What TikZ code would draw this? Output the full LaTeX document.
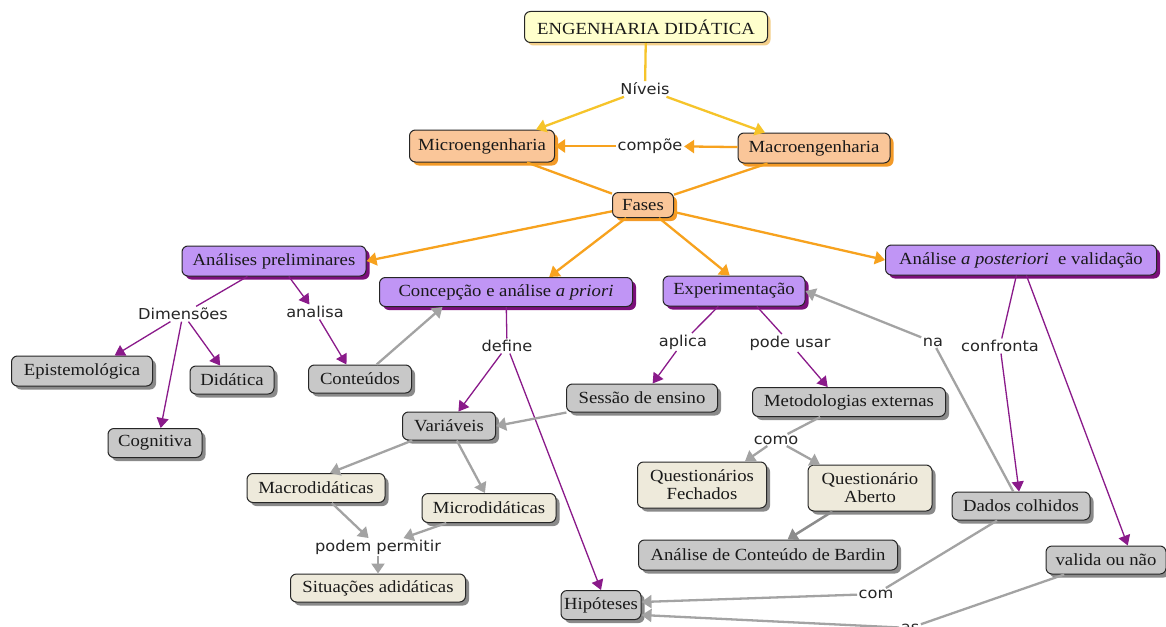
\documentclass[tikz,border=0pt]{standalone}
\usepackage{fontspec}
\setmainfont{Liberation Serif}[FakeStretch=1.1]
\newfontfamily\labfont{DejaVu Sans}[FakeStretch=1.08]
\usetikzlibrary{arrows.meta,shadows,calc}
\definecolor{titlefill}{HTML}{FFFFCC}
\definecolor{titleshadow}{HTML}{F3CF8A}
\definecolor{orfill}{HTML}{FAC699}
\definecolor{orshadow}{HTML}{F39A28}
\definecolor{pufill}{HTML}{C095F5}
\definecolor{pushadow}{HTML}{7B0F7B}
\definecolor{grfill}{HTML}{C8C8C8}
\definecolor{grshadow}{HTML}{8A8A8A}
\definecolor{befill}{HTML}{EEEADB}
\definecolor{yline}{HTML}{F6C42A}
\definecolor{oline}{HTML}{F7A21E}
\definecolor{pline}{HTML}{8A1A8A}
\definecolor{gline}{HTML}{A3A3A3}
\definecolor{gdark}{HTML}{8C8C8C}
\tikzset{
  concept/.style={draw=black!85, line width=1pt, rounded corners=6pt,
    font=\fontsize{17}{18}\selectfont, inner xsep=3pt, inner ysep=2pt,
    align=center, text=black!90},
  ctitle/.style={concept, fill=titlefill, font=\fontsize{17}{18}\selectfont,
    drop shadow={shadow xshift=3pt, shadow yshift=-3pt, fill=titleshadow, opacity=1}},
  corange/.style={concept, fill=orfill,
    drop shadow={shadow xshift=3.5pt, shadow yshift=-3.5pt, fill=orshadow, opacity=1}},
  cpurple/.style={concept, fill=pufill,
    drop shadow={shadow xshift=3.5pt, shadow yshift=-3.5pt, fill=pushadow, opacity=1}},
  cgrey/.style={concept, fill=grfill,
    drop shadow={shadow xshift=3.5pt, shadow yshift=-3.5pt, fill=grshadow, opacity=1}},
  cbeige/.style={concept, fill=befill,
    drop shadow={shadow xshift=3.5pt, shadow yshift=-3.5pt, fill=grshadow, opacity=1}},
  lbl/.style={font=\labfont\fontsize{15}{16}\selectfont, inner sep=1.5pt, text=black!85},
  yl/.style={draw=yline, line width=2.3pt},
  ya/.style={yl, -{Triangle[length=10pt,width=13pt]}},
  ol/.style={draw=oline, line width=2.3pt},
  oa/.style={ol, -{Triangle[length=10pt,width=13pt]}},
  pl/.style={draw=pline, line width=1.3pt},
  pa/.style={pl, -{Triangle[length=10pt,width=12pt]}},
  gl/.style={draw=gline, line width=2.3pt},
  ga/.style={gl, -{Triangle[length=10pt,width=13pt]}},
  gda/.style={draw=gdark, line width=2.5pt, -{Triangle[length=10pt,width=13pt]}},
}
\begin{document}
\begin{tikzpicture}[x=1pt,y=-1pt]
\fill[white] (0,0) rectangle (1166,626);
\useasboundingbox (0,0) rectangle (1166,626);

% concepts
\node[ctitle, minimum width=243pt, minimum height=31pt] (title) at (646,27) {ENGENHARIA DIDÁTICA};
\node[corange, minimum width=145pt, minimum height=32pt] (micro) at (482,146) {Microengenharia};
\node[corange, minimum width=152pt, minimum height=30pt] (macro) at (814,148) {Macroengenharia};
\node[corange, minimum width=61pt, minimum height=25pt] (fases) at (643,205) {Fases};
\node[cpurple, minimum width=184pt, minimum height=30pt] (prelim) at (274,261) {Análises preliminares};
\node[cpurple, minimum width=253pt, minimum height=29pt] (concep) at (506,292) {Concepção e análise \textit{a priori}};
\node[cpurple, minimum width=142pt, minimum height=30pt] (exper) at (734,291) {Experimentação};
\node[cpurple, minimum width=271pt, minimum height=30pt] (poster) at (1021,260) {Análise \textit{a posteriori}\ \ e validação};
\node[cgrey, minimum width=141pt, minimum height=30pt] (epist) at (82,371) {Epistemológica};
\node[cgrey, minimum width=84pt, minimum height=28pt] (didat) at (232,380) {Didática};
\node[cgrey, minimum width=103pt, minimum height=28pt] (conteudos) at (360,379) {Conteúdos};
\node[cgrey, minimum width=94pt, minimum height=29pt] (cogn) at (155,443) {Cognitiva};
\node[cgrey, minimum width=151pt, minimum height=28pt] (sessao) at (642,398) {Sessão de ensino};
\node[cgrey, minimum width=193pt, minimum height=29pt] (metod) at (849,402) {Metodologias externas};
\node[cgrey, minimum width=93pt, minimum height=28pt] (variaveis) at (449,426) {Variáveis};
\node[cbeige, minimum width=129pt, minimum height=46pt] (qf) at (702,485) {Questionários\\Fechados};
\node[cbeige, minimum width=124pt, minimum height=46pt] (qa) at (870,488) {Questionário\\Aberto};
\node[cgrey, minimum width=138pt, minimum height=28pt] (dados) at (1021,506) {Dados colhidos};
\node[cbeige, minimum width=138pt, minimum height=29pt] (macrod) at (316,488) {Macrodidáticas};
\node[cbeige, minimum width=134pt, minimum height=29pt] (microd) at (489,508) {Microdidáticas};
\node[cgrey, minimum width=259pt, minimum height=30pt] (bardin) at (768,555) {Análise de Conteúdo de Bardin};
\node[cgrey, minimum width=120pt, minimum height=28pt] (valida) at (1106,560) {valida ou não};
\node[cbeige, minimum width=175pt, minimum height=28pt] (situ) at (378,588) {Situações adidáticas};
\node[cgrey, minimum width=80pt, minimum height=29pt] (hip) at (601,605) {Hipóteses};

% linking phrases
\node[lbl] (niveis) at (645,89) {Níveis};
\node[lbl] (compoe) at (650,146) {compõe};
\node[lbl] (dim) at (183,314) {Dimensões};
\node[lbl] (analisa) at (315,312) {analisa};
\node[lbl] (define) at (507,346) {define};
\node[lbl] (aplica) at (683,342) {aplica};
\node[lbl] (podeusar) at (790,343) {pode usar};
\node[lbl] (na) at (933,342) {na};
\node[lbl] (confronta) at (1000,346) {confronta};
\node[lbl] (como) at (776,440) {como};
\node[lbl] (podem) at (378,547) {podem permitir};
\node[lbl] (com) at (876,594) {com};
\node[lbl] (as) at (910,628) {as};

% yellow / orange
\draw[yl] (title) -- (niveis);
\draw[ya] (niveis) -- ($(micro.north west)!0.87!(micro.north east)$);
\draw[ya] (niveis) -- ($(macro.north west)!0.18!(macro.north east)$);
\draw[oa] (macro) -- (compoe);
\draw[oa] (compoe) -- (micro);
\draw[ol] (micro) -- (fases);
\draw[ol] (macro) -- (fases);
\draw[oa] (fases) -- (prelim.east);
\draw[oa] (fases) -- ($(concep.north west)!0.67!(concep.north east)$);
\draw[oa] (fases) -- ($(exper.north west)!0.47!(exper.north east)$);
\draw[oa] (fases) -- (poster.west);

% purple
\draw[pl] (prelim) -- (dim);
\draw[pa] ($(prelim.south west)!0.58!(prelim.south east)$) -- (analisa);
\draw[pa] (analisa) -- ($(conteudos.north west)!0.37!(conteudos.north east)$);
\draw[pa] (dim) -- ($(epist.north west)!0.73!(epist.north east)$);
\draw[pa] (dim) -- ($(cogn.north west)!0.56!(cogn.north east)$);
\draw[pa] (dim) -- ($(didat.north west)!0.36!(didat.north east)$);
\draw[pl] (concep) -- (define);
\draw[pa] (define) -- ($(variaveis.north west)!0.6!(variaveis.north east)$);
\draw[pa] (define) -- (hip.north);
\draw[pl] ($(exper.south west)!0.39!(exper.south east)$) -- (aplica);
\draw[pa] (aplica) -- ($(sessao.north west)!0.57!(sessao.north east)$);
\draw[pl] ($(exper.south west)!0.66!(exper.south east)$) -- (podeusar);
\draw[pa] (podeusar) -- ($(metod.north west)!0.39!(metod.north east)$);
\draw[pl] ($(poster.south west)!0.483!(poster.south east)$) -- (confronta);
\draw[pa] (confronta) -- ($(dados.north west)!0.486!(dados.north east)$);
\draw[pa] ($(poster.south west)!0.52!(poster.south east)$) -- ($(valida.north west)!0.68!(valida.north east)$);

% grey
\draw[ga] (conteudos) -- ($(concep.south west)!0.25!(concep.south east)$);
\draw[ga] (sessao) -- (variaveis.east);
\draw[ga] (variaveis) -- ($(macrod.north west)!0.6!(macrod.north east)$);
\draw[ga] (variaveis) -- ($(microd.north west)!0.47!(microd.north east)$);
\draw[ga] (macrod) -- (podem);
\draw[ga] (microd) -- (podem);
\draw[ga] (podem) -- (situ);
\draw[gl] (metod) -- (como);
\draw[ga] (como) -- ($(qf.north west)!0.83!(qf.north east)$);
\draw[ga] (como) -- ($(qa.north west)!0.1!(qa.north east)$);
\draw[gda] (qa) -- ($(bardin.north west)!0.575!(bardin.north east)$);
\draw[gl] (dados) -- (na);
\draw[ga] (na) -- (exper.east);
\draw[gl] (dados) -- (com);
\draw[ga] (com) -- ($(hip.east)+(0,-3)$);
\draw[gl] (valida) -- (as);
\draw[ga] (as) -- ($(hip.east)+(0,10)$);
\end{tikzpicture}
\end{document}
